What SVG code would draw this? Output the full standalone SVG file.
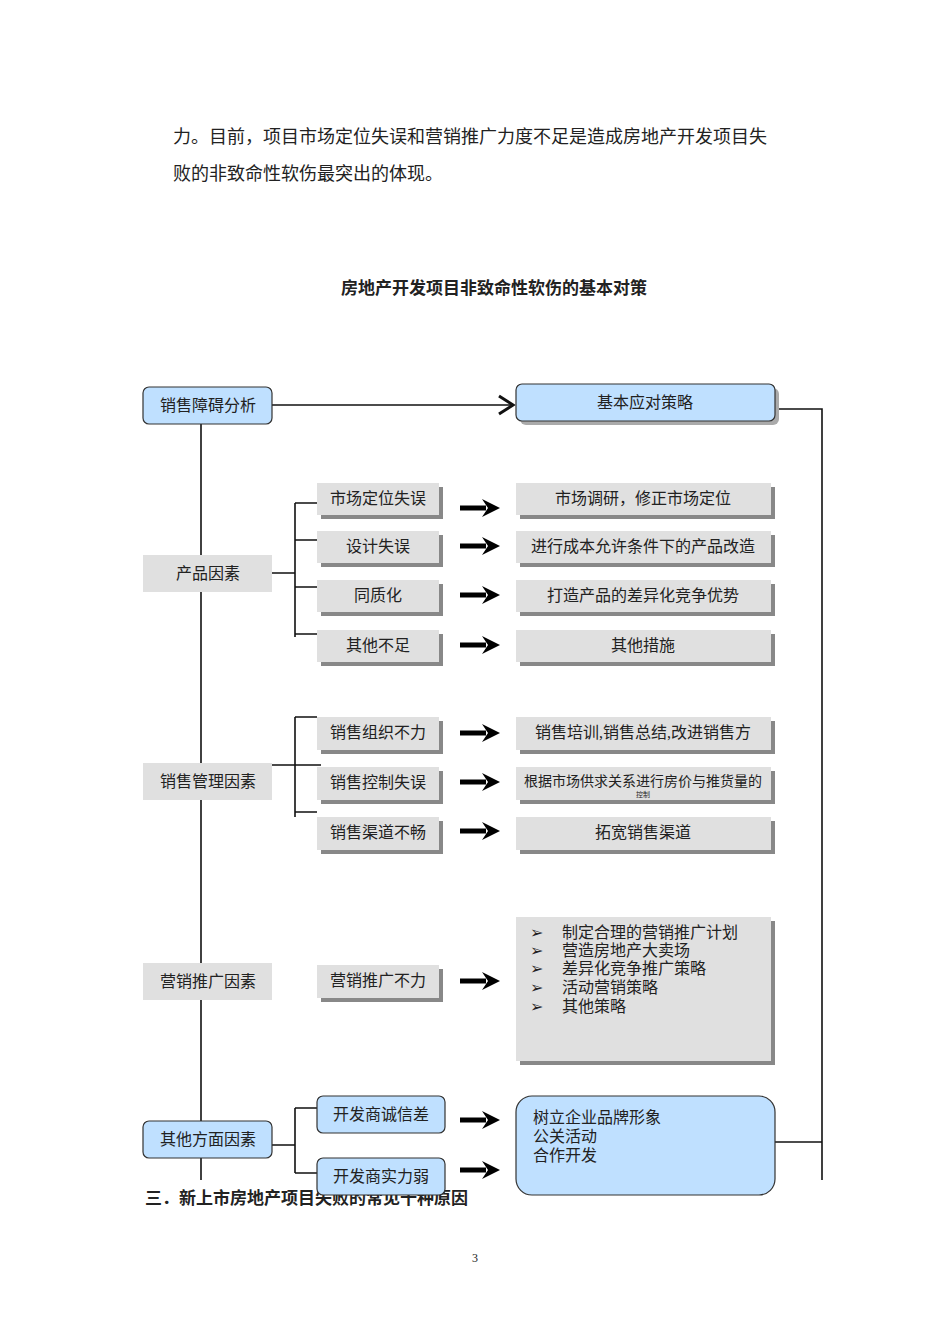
<svg xmlns="http://www.w3.org/2000/svg" width="950" height="1344" viewBox="0 0 950 1344">
<style>
text{font-family:"Liberation Serif","Noto Sans CJK SC",serif;fill:#222}
.t{font-size:16px;text-anchor:middle}
.l{font-size:16px}
.g{fill:#e0e0e0}
.sh{fill:#888}
.b{fill:#bfe0ff;stroke:#333;stroke-width:1.2}
.ln{stroke:#111;stroke-width:1.6;fill:none}
.ar{stroke:#000;stroke-width:5;fill:none}
.ah{fill:#000}
</style>
<defs>
<g id="arr"><line class="ar" x1="460" y1="0" x2="486" y2="0"/><path class="ah" d="M482,-9 L500,0 L482,9 L488,0 Z"/></g>
</defs>
<text x="173" y="143" style="font-size:18px">力。目前，项目市场定位失误和营销推广力度不足是造成房地产开发项目失</text>
<text x="173" y="180" style="font-size:18px">败的非致命性软伤最突出的体现。</text>
<text x="494" y="294" style="font-size:17px;font-weight:bold;text-anchor:middle">房地产开发项目非致命性软伤的基本对策</text>
<text x="145" y="1204" style="font-size:17px;font-weight:bold">三．新上市房地产项目失败的常见十种原因</text>
<text x="475" y="1262" style="font-size:12px;text-anchor:middle">3</text>
<g id="connectors">
<line class="ln" x1="201" y1="424" x2="201" y2="1180"/>
<line class="ln" x1="272" y1="405" x2="512" y2="405"/>
<path class="ln" d="M499,396 L513,405 L499,414" style="stroke-width:3"/>
<path class="ln" d="M775,409 H822 V1180"/>
<line class="ln" x1="775" y1="1142" x2="822" y2="1142"/>
<path class="ln" d="M272,573 H295 M295,503 V637 M295,503 H317 M295,540 H317 M295,587 H317 M295,634 H317"/>
<path class="ln" d="M270,765 H321 M295,717 V817 M295,717 H317 M295,812 H317"/>
<path class="ln" d="M272,1145 H295 M295,1108 V1173 M295,1108 H317 M295,1173 H317"/>
<use href="#arr" y="508"/><use href="#arr" y="546"/><use href="#arr" y="595"/><use href="#arr" y="645"/>
<use href="#arr" y="733"/><use href="#arr" y="782"/><use href="#arr" y="831"/>
<use href="#arr" y="981"/><use href="#arr" y="1120"/><use href="#arr" y="1170"/>
</g>
<g id="n-top"><rect class="b" x="143" y="387" width="129" height="37" rx="6"/><text class="t" x="208" y="411">销售障碍分析</text></g>
<g id="n-strat"><rect x="520" y="388" width="259" height="37" rx="6" fill="#aaa"/><rect class="b" x="516" y="384" width="259" height="37" rx="6"/><text class="t" x="645" y="408">基本应对策略</text></g>
<g id="n-prod"><rect class="g" x="143" y="555" width="129" height="37"/><text class="t" x="208" y="579">产品因素</text></g>
<g id="n-p1"><rect class="sh" x="321" y="487" width="122" height="32"/><rect class="g" x="317" y="483" width="122" height="32"/><text class="t" x="378" y="504">市场定位失误</text></g>
<g id="n-p2"><rect class="sh" x="321" y="535" width="122" height="32"/><rect class="g" x="317" y="531" width="122" height="32"/><text class="t" x="378" y="552">设计失误</text></g>
<g id="n-p3"><rect class="sh" x="321" y="584" width="122" height="32"/><rect class="g" x="317" y="580" width="122" height="32"/><text class="t" x="378" y="601">同质化</text></g>
<g id="n-p4"><rect class="sh" x="321" y="634" width="122" height="32"/><rect class="g" x="317" y="630" width="122" height="32"/><text class="t" x="378" y="651">其他不足</text></g>
<g id="n-r1"><rect class="sh" x="520" y="487" width="255" height="32"/><rect class="g" x="516" y="483" width="255" height="32"/><text class="t" x="643" y="504">市场调研，修正市场定位</text></g>
<g id="n-r2"><rect class="sh" x="520" y="535" width="255" height="32"/><rect class="g" x="516" y="531" width="255" height="32"/><text class="t" x="643" y="552">进行成本允许条件下的产品改造</text></g>
<g id="n-r3"><rect class="sh" x="520" y="584" width="255" height="32"/><rect class="g" x="516" y="580" width="255" height="32"/><text class="t" x="643" y="601">打造产品的差异化竞争优势</text></g>
<g id="n-r4"><rect class="sh" x="520" y="634" width="255" height="32"/><rect class="g" x="516" y="630" width="255" height="32"/><text class="t" x="643" y="651">其他措施</text></g>
<g id="n-sales"><rect class="g" x="143" y="763" width="129" height="37"/><text class="t" x="208" y="787">销售管理因素</text></g>
<g id="n-s1"><rect class="sh" x="321" y="721" width="122" height="33"/><rect class="g" x="317" y="717" width="122" height="33"/><text class="t" x="378" y="738">销售组织不力</text></g>
<g id="n-s2"><rect class="sh" x="321" y="771" width="122" height="33"/><rect class="g" x="317" y="767" width="122" height="33"/><text class="t" x="378" y="788">销售控制失误</text></g>
<g id="n-s3"><rect class="sh" x="321" y="821" width="122" height="33"/><rect class="g" x="317" y="817" width="122" height="33"/><text class="t" x="378" y="838">销售渠道不畅</text></g>
<g id="n-sr1"><rect class="sh" x="520" y="721" width="255" height="33"/><rect class="g" x="516" y="717" width="255" height="33"/><text class="t" x="643" y="738">销售培训,销售总结,改进销售方</text></g>
<g id="n-sr2"><rect class="sh" x="520" y="771" width="255" height="33"/><rect class="g" x="516" y="767" width="255" height="33"/><text class="t" x="643" y="786" style="font-size:14px">根据市场供求关系进行房价与推货量的</text><text class="t" x="643" y="797" style="font-size:7px">控制</text></g>
<g id="n-sr3"><rect class="sh" x="520" y="821" width="255" height="33"/><rect class="g" x="516" y="817" width="255" height="33"/><text class="t" x="643" y="838">拓宽销售渠道</text></g>
<g id="n-mkt"><rect class="g" x="143" y="963" width="129" height="37"/><text class="t" x="208" y="987">营销推广因素</text></g>
<g id="n-m1"><rect class="sh" x="321" y="969" width="122" height="33"/><rect class="g" x="317" y="965" width="122" height="33"/><text class="t" x="378" y="986">营销推广不力</text></g>
<g id="n-mr"><rect class="sh" x="520" y="921" width="255" height="144"/><rect class="g" x="516" y="917" width="255" height="144"/>
<text class="l" x="530" y="938">➢</text><text class="l" x="562" y="938">制定合理的营销推广计划</text>
<text class="l" x="530" y="956">➢</text><text class="l" x="562" y="956">营造房地产大卖场</text>
<text class="l" x="530" y="974">➢</text><text class="l" x="562" y="974">差异化竞争推广策略</text>
<text class="l" x="530" y="993">➢</text><text class="l" x="562" y="993">活动营销策略</text>
<text class="l" x="530" y="1012">➢</text><text class="l" x="562" y="1012">其他策略</text></g>
<g id="n-oth"><rect class="b" x="143" y="1121" width="129" height="37" rx="6"/><text class="t" x="208" y="1145">其他方面因素</text></g>
<g id="n-o1"><rect class="b" x="317" y="1096" width="128" height="37" rx="6"/><text class="t" x="381" y="1120">开发商诚信差</text></g>
<g id="n-o2"><rect class="b" x="317" y="1158" width="128" height="37" rx="6"/><text class="t" x="381" y="1182">开发商实力弱</text></g>
<g id="n-or"><rect class="b" x="516" y="1096" width="259" height="99" rx="16"/>
<text class="l" x="533" y="1123">树立企业品牌形象</text><text class="l" x="533" y="1142">公关活动</text><text class="l" x="533" y="1161">合作开发</text></g>
</svg>
